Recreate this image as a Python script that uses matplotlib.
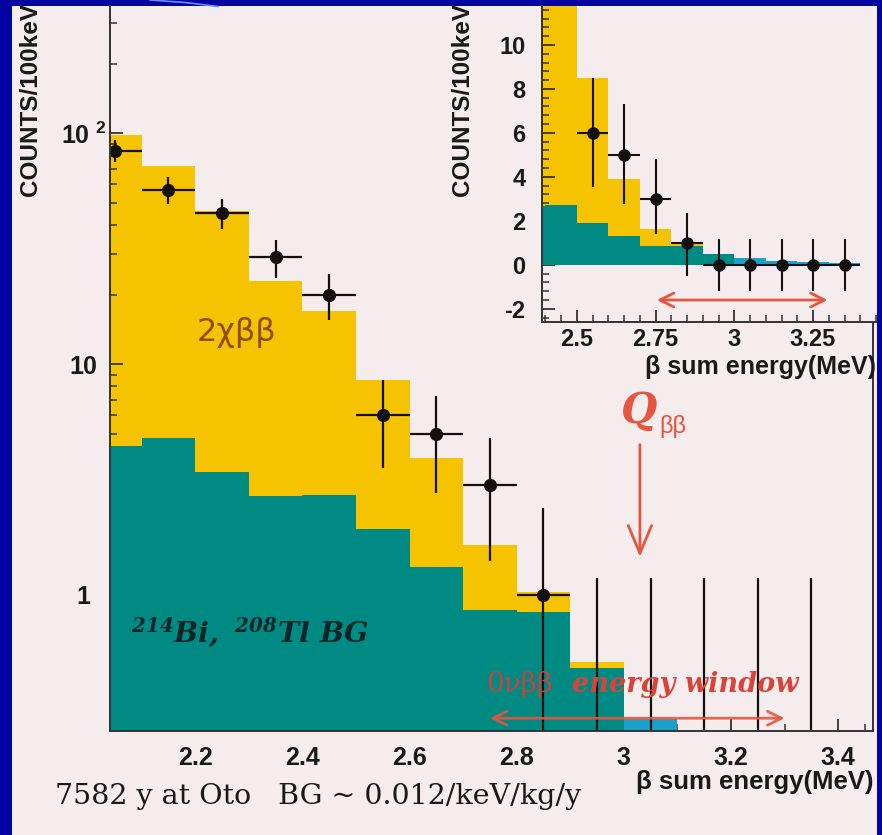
import numpy as np
import matplotlib
matplotlib.use('Agg')
import matplotlib.pyplot as plt
from matplotlib.patches import Rectangle
from matplotlib.lines import Line2D
from matplotlib.ticker import FixedLocator, MultipleLocator, LogLocator, NullFormatter, FixedFormatter

plt.rcParams['mathtext.fontset'] = 'custom'
plt.rcParams['mathtext.rm'] = 'DejaVu Serif:bold:italic'
plt.rcParams['mathtext.it'] = 'DejaVu Serif:bold:italic'
plt.rcParams['mathtext.bf'] = 'Liberation Sans:bold'

# ---------------- data ----------------
bin_edges = [2.0, 2.1, 2.2, 2.3, 2.4, 2.5, 2.6, 2.7, 2.8, 2.9, 3.0, 3.1, 3.2, 3.3, 3.4]
total_mc = [98, 72, 46, 23, 17, 8.5, 3.9, 1.65, 1.03, 0.51, 0.29, 0.17, 0.12, 0.08]
bg_mc = [4.4, 4.8, 3.4, 2.67, 2.7, 1.92, 1.32, 0.86, 0.84, 0.48, 0.29, 0.17, 0.12, 0.08]
energy = [2.05, 2.15, 2.25, 2.35, 2.45, 2.55, 2.65, 2.75, 2.85, 2.95, 3.05, 3.15, 3.25, 3.35]
counts = [84, 57, 45, 29, 20, 6, 5, 3, 1, 0, 0, 0, 0, 0]
err_low = [9.2, 7.5, 6.7, 5.4, 4.5, 2.45, 2.24, 1.6, 1.5, 1.18, 1.18, 1.18, 1.18, 1.18]
err_high = [9.2, 7.5, 6.7, 5.4, 4.5, 2.5, 2.3, 1.8, 1.37, 1.18, 1.18, 1.18, 1.18, 1.18]
bin_half = 0.05
split = 10  # bins from 3.0 MeV drawn in lighter blue

main_xticks = [2.2, 2.4, 2.6, 2.8, 3.0, 3.2, 3.4]
main_xticklabels = ['2.2', '2.4', '2.6', '2.8', '3', '3.2', '3.4']
main_yticks = [1, 10, 100]
main_yticklabels = ['1', '10', r'$\mathbf{10^{\ 2}}$']
inset_xticks = [2.5, 2.75, 3.0, 3.25]
inset_xticklabels = ['2.5', '2.75', '3', '3.25']
inset_yticks = [-2, 0, 2, 4, 6, 8, 10]
inset_yticklabels = ['-2', '0', '2', '4', '6', '8', '10']

q_bb = 3.03
q_arrow_y = (4.6, 1.42)
window = (2.745, 3.305)

# ---------------- style ----------------
BLUE = '#0303A2'
PAPER = '#F5EDED'
YELLOW = '#F6C300'
TEAL = '#008A84'
LIGHTBLUE = '#1BA0C9'
RED = '#E6553F'
INK = '#151010'
SANS = 'Liberation Sans'

W, H = 882, 835
fig = plt.figure(figsize=(W / 100, H / 100), dpi=100, facecolor=BLUE)

def fx(px):
    return px / W

def fy(py):
    return 1 - py / H

fig.add_artist(Rectangle((fx(12), 0), fx(877) - fx(12), fy(6), transform=fig.transFigure,
                         facecolor=PAPER, edgecolor='none', zorder=-5))
fig.add_artist(Line2D([fx(150), fx(185), fx(218)], [fy(0), fy(2.5), fy(6.5)],
                      transform=fig.transFigure, color='#6C8CFF', lw=1.2))

# ---------------- main axes ----------------
ax = fig.add_axes([fx(110), fy(731), fx(873) - fx(110), fy(6) - fy(731)])
ax.set_facecolor(PAPER)
ax.set_yscale('log')
ax.stairs(total_mc, bin_edges, fill=True, color=YELLOW, zorder=1)
ax.stairs(bg_mc[:split], bin_edges[:split + 1], fill=True, color=TEAL, zorder=2)
ax.stairs(bg_mc[split:], bin_edges[split:], fill=True, color=LIGHTBLUE, zorder=2)
ax.errorbar(energy, counts, yerr=[err_low, err_high], xerr=bin_half, fmt='o',
            color=INK, ms=8.5, elinewidth=1.6, capsize=0, zorder=4)
ax.set_xlim(2.041, 3.465)
ax.set_ylim(0.257, 356)
ax.spines['top'].set_visible(False)
for s in ['left', 'bottom', 'right']:
    ax.spines[s].set_color('#333333')
    ax.spines[s].set_linewidth(1.4)
    ax.spines[s].set_zorder(5)
ax.xaxis.set_major_locator(FixedLocator(main_xticks))
ax.xaxis.set_major_formatter(FixedFormatter(main_xticklabels))
ax.xaxis.set_minor_locator(MultipleLocator(0.05))
ax.yaxis.set_major_locator(FixedLocator(main_yticks))
ax.yaxis.set_major_formatter(FixedFormatter(main_yticklabels))
ax.yaxis.set_minor_locator(LogLocator(base=10, subs=np.arange(2, 10)))
ax.yaxis.set_minor_formatter(NullFormatter())
ax.tick_params(which='both', direction='in', color='#333333', top=False, right=False)
ax.tick_params(which='major', length=9, width=1.3)
ax.tick_params(which='minor', length=5, width=1.1)
ax.tick_params(axis='x', which='major', pad=11, labelsize=18)
ax.tick_params(axis='y', which='major', pad=19, labelsize=18)
for lab in ax.get_xticklabels() + ax.get_yticklabels():
    lab.set_fontfamily(SANS)
    lab.set_fontweight('bold')
    lab.set_color('#1A1A1A')
for lab in ax.get_yticklabels():
    lab.set_horizontalalignment('center')

# labels in main
fig.text(fx(236), fy(333), '2χββ', fontsize=23, color='#8F4E05', family='DejaVu Sans',
         ha='center', va='center')
fig.text(fx(250), fy(632), r'$^{214}Bi,\ ^{208}Tl\ BG$', fontsize=20.5, color='#0C2628',
         ha='center', va='center')

# Q_bb arrow
ax.annotate('', xy=(q_bb, q_arrow_y[1]), xytext=(q_bb, q_arrow_y[0]),
            arrowprops=dict(arrowstyle='->, head_length=1.0, head_width=0.42',
                            mutation_scale=20, color=RED, lw=2), zorder=6)
fig.text(fx(639), fy(411), 'Q', fontsize=30, color=RED, family='DejaVu Serif',
         style='italic', weight='bold', ha='center', va='center')
fig.text(fx(673), fy(427), 'ββ', fontsize=17, color=RED, family=SANS,
         ha='center', va='center')

# 0vbb energy window
ax.annotate('', xy=(window[0], 0.292), xytext=(window[1], 0.292),
            arrowprops=dict(arrowstyle='<->, head_length=0.5, head_width=0.25',
                            mutation_scale=20, color=RED, lw=2, alpha=0.9), zorder=6)
fig.text(fx(486), fy(684), '0νββ', fontsize=20, color='#C8453E', family='DejaVu Serif',
         ha='left', va='center')
fig.text(fx(572), fy(684), 'energy window', fontsize=19.5, color='#D9443A', family='DejaVu Serif',
         style='italic', weight='bold', ha='left', va='center')

# axis labels
fig.text(fx(874), fy(782), 'β sum energy(MeV)', fontsize=18.5, weight='bold', family=SANS,
         color='#1A1A1A', ha='right', va='center')
fig.text(fx(31), fy(99), 'COUNTS/100keV', fontsize=17.5, weight='bold', family=SANS,
         color='#1A1A1A', rotation=90, ha='center', va='center')
fig.text(fx(55), fy(797), '7582 y at Oto   BG ~ 0.012/keV/kg/y', fontsize=20.5,
         family='DejaVu Serif', color='#1A1A1A', ha='left', va='center')

# ---------------- inset ----------------
ins = fig.add_axes([fx(542), fy(322), fx(876) - fx(542), fy(6) - fy(322)])
ins.set_facecolor(PAPER)
ins.stairs(total_mc, bin_edges, fill=True, color=YELLOW, zorder=1)
ins.stairs(bg_mc[:split], bin_edges[:split + 1], fill=True, color=TEAL, zorder=2)
ins.stairs(bg_mc[split:], bin_edges[split:], fill=True, color=LIGHTBLUE, zorder=2)
ins.errorbar(energy, counts, yerr=[err_low, err_high], xerr=bin_half, fmt='o',
             color=INK, ms=8, elinewidth=1.5, capsize=0, zorder=4)
ins.annotate('', xy=(window[0], -1.6), xytext=(window[1], -1.6),
             arrowprops=dict(arrowstyle='<->, head_length=0.5, head_width=0.25',
                             mutation_scale=20, color=RED, lw=2), zorder=6)
ins.set_xlim(2.389, 3.45)
ins.set_ylim(-2.6, 11.77)
for s in ['top', 'right']:
    ins.spines[s].set_visible(False)
for s in ['left', 'bottom']:
    ins.spines[s].set_color('#333333')
    ins.spines[s].set_linewidth(1.4)
ins.xaxis.set_major_locator(FixedLocator(inset_xticks))
ins.xaxis.set_major_formatter(FixedFormatter(inset_xticklabels))
ins.xaxis.set_minor_locator(MultipleLocator(0.05))
ins.yaxis.set_major_locator(FixedLocator(inset_yticks))
ins.yaxis.set_major_formatter(FixedFormatter(inset_yticklabels))
ins.yaxis.set_minor_locator(MultipleLocator(0.4))
ins.tick_params(which='both', direction='in', color='#333333', top=False, right=False)
ins.tick_params(which='major', length=9, width=1.3)
ins.tick_params(which='minor', length=5, width=1.1)
ins.tick_params(axis='x', which='major', pad=4, labelsize=17)
ins.tick_params(axis='y', which='major', pad=12, labelsize=17)
for lab in ins.get_xticklabels() + ins.get_yticklabels():
    lab.set_fontfamily(SANS)
    lab.set_fontweight('bold')
    lab.set_color('#1A1A1A')

fig.text(fx(876), fy(367), 'β sum energy(MeV)', fontsize=18, weight='bold', family=SANS,
         color='#1A1A1A', ha='right', va='center')
fig.text(fx(463), fy(99), 'COUNTS/100keV', fontsize=17.5, weight='bold', family=SANS,
         color='#1A1A1A', rotation=90, ha='center', va='center')

fig.savefig('out.png', dpi=100, facecolor=BLUE)
